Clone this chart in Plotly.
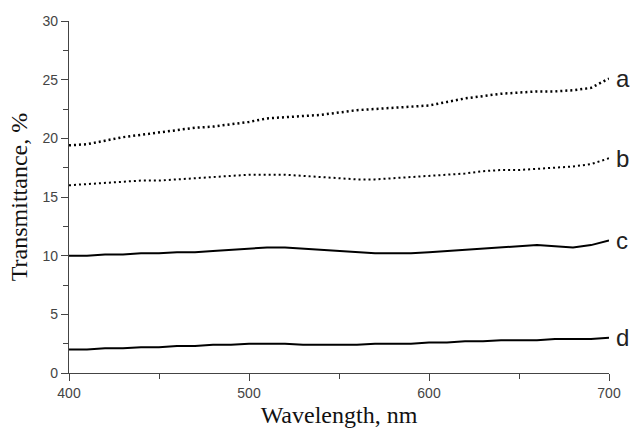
import plotly.graph_objects as go

wavelength = list(range(400, 701, 10))
series_a = [19.4, 19.5, 19.8, 20.1, 20.3, 20.5, 20.7, 20.9, 21.0, 21.2, 21.4, 21.7, 21.8, 21.9, 22.0, 22.2,
            22.4, 22.5, 22.6, 22.7, 22.8, 23.1, 23.4, 23.6, 23.8, 23.9, 24.0, 24.0, 24.1, 24.3, 25.1]
series_b = [16.0, 16.1, 16.2, 16.3, 16.4, 16.4, 16.5, 16.6, 16.7, 16.8, 16.9, 16.9, 16.9, 16.8, 16.7, 16.6,
            16.5, 16.5, 16.6, 16.7, 16.8, 16.9, 17.0, 17.2, 17.3, 17.3, 17.4, 17.5, 17.6, 17.8, 18.3]
series_c = [10.0, 10.0, 10.1, 10.1, 10.2, 10.2, 10.3, 10.3, 10.4, 10.5, 10.6, 10.7, 10.7, 10.6, 10.5, 10.4,
            10.3, 10.2, 10.2, 10.2, 10.3, 10.4, 10.5, 10.6, 10.7, 10.8, 10.9, 10.8, 10.7, 10.9, 11.3]
series_d = [2.0, 2.0, 2.1, 2.1, 2.2, 2.2, 2.3, 2.3, 2.4, 2.4, 2.5, 2.5, 2.5, 2.4, 2.4, 2.4,
            2.4, 2.5, 2.5, 2.5, 2.6, 2.6, 2.7, 2.7, 2.8, 2.8, 2.8, 2.9, 2.9, 2.9, 3.0]
labels = ["a", "b", "c", "d"]
x_ticks = [400, 500, 600, 700]
y_ticks = [0, 5, 10, 15, 20, 25, 30]

fig = go.Figure()
styles = [("2px,3px", 2.5), ("2px,3px", 2), ("solid", 2), ("solid", 2)]
all_series = [series_a, series_b, series_c, series_d]
for s, lab, (dash, w) in zip(all_series, labels, styles):
    fig.add_trace(go.Scatter(x=wavelength, y=s, mode="lines", name=lab,
                             line=dict(color="black", width=w, dash=dash), showlegend=False))
    fig.add_annotation(x=wavelength[-1], y=s[-1], text=lab, showarrow=False, xanchor="left",
                       xshift=6, borderpad=0,
                       font=dict(family="Liberation Sans, Arial", size=24, color="#222"))

axis_common = dict(showline=True, linecolor="#444", linewidth=1.2, ticks="outside", ticklen=7,
                   tickcolor="#444", showgrid=False, zeroline=False,
                   tickfont=dict(family="Liberation Sans, Arial", size=14, color="#444"),
                   minor=dict(ticks="outside", ticklen=5, tickcolor="#444"))
fig.update_xaxes(range=[400, 700], tickvals=x_ticks, **axis_common,
                 title=dict(text="Wavelength, nm", standoff=6,
                            font=dict(family="Liberation Serif, Times New Roman", size=24, color="#111")))
fig.update_xaxes(minor=dict(tickvals=[450, 550, 650]))
fig.update_yaxes(range=[0, 30], tickvals=y_ticks, **axis_common,
                 title=dict(text="Transmittance, %", standoff=8,
                            font=dict(family="Liberation Serif, Times New Roman", size=24, color="#111")))
fig.update_yaxes(minor=dict(tickvals=[2.5, 7.5, 12.5, 17.5, 22.5, 27.5]))
fig.update_layout(width=637, height=436, margin=dict(l=69, r=28, t=21, b=53),
                  plot_bgcolor="white", paper_bgcolor="white")
fig.write_html("out.html", config={"displayModeBar": False},
               post_script="document.body.style.margin='0';document.body.style.overflow='hidden';")
